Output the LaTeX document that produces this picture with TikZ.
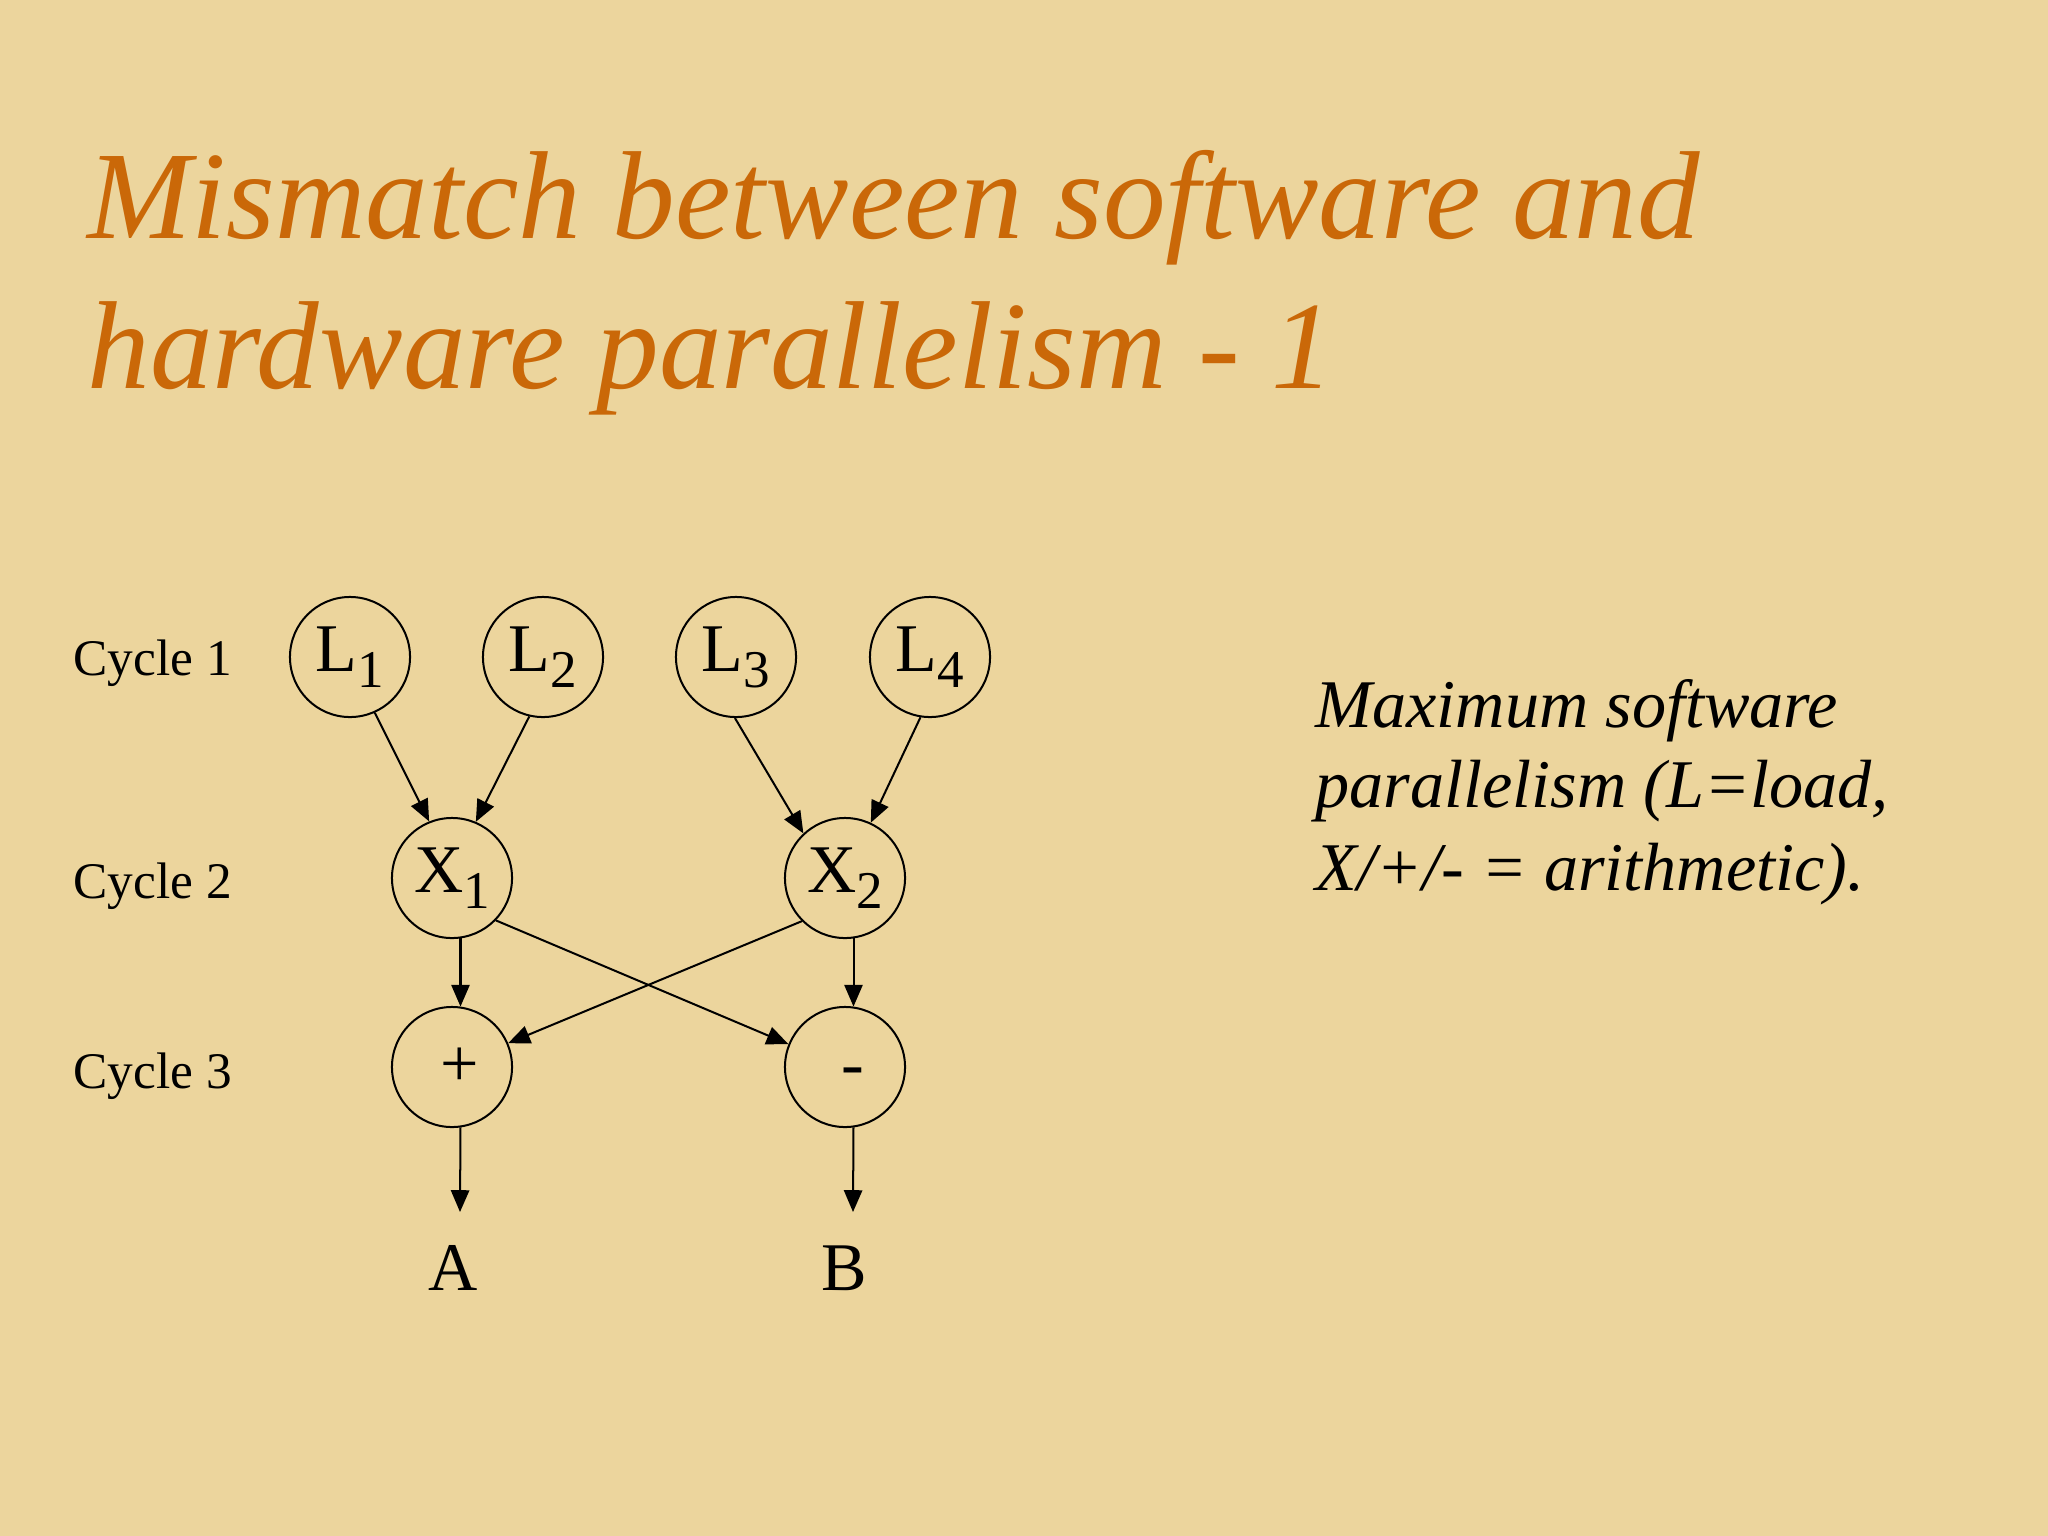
\documentclass[tikz,border=0pt]{standalone}
\usepackage{fontspec}
\setmainfont{Liberation Serif}
\usetikzlibrary{arrows.meta}
\definecolor{parch}{RGB}{236,213,157}
\definecolor{titleorange}{RGB}{202,104,8}
\newcommand\mysub[1]{\raisebox{-4.6pt}{\fontsize{15.1}{18}\selectfont #1}}
\tikzset{
  opnode/.style={circle,draw=black,line width=0.57pt,minimum size=1.2cm,inner sep=0pt,
    font=\fontsize{19.4}{23}\selectfont},
  conn/.style={line width=0.57pt,-{Triangle[length=6.2pt,width=5.2pt]}},
  titletext/.style={anchor=base west,inner sep=0pt,text=titleorange,
    font=\fontsize{35.6}{42}\selectfont\itshape},
  bodytext/.style={anchor=base west,inner sep=0pt,font=\fontsize{19.4}{23}\selectfont\itshape},
  cyclelabel/.style={anchor=base west,inner sep=0pt,font=\fontsize{14.6}{17}\selectfont},
  outlabel/.style={anchor=base,inner sep=0pt,font=\fontsize{19.4}{23}\selectfont}
}
\begin{document}
\begin{tikzpicture}[x=0.01cm,y=-0.01cm]
\fill[parch] (0,0) rectangle (2048,1536);
\useasboundingbox (0,0) rectangle (2048,1536);
% title
\node[titletext] (t1) at (87,238) {Mismatch between software and};
\node[titletext] (t2) at (87,388) {hardware parallelism - 1};
% right text
\node[bodytext] (r1) at (1315,727) {Maximum software};
\node[bodytext] (r2) at (1315,807) {parallelism (L=load,};
\node[bodytext] (r3) at (1315,890) {X/+/- = arithmetic).};
% cycle labels
\node[cyclelabel] (c1) at (73,675) {Cycle 1};
\node[cyclelabel] (c2) at (73,898) {Cycle 2};
\node[cyclelabel] (c3) at (73,1088) {Cycle 3};
% nodes
\node[opnode] (L1) at (350,657) {L\mysub{1}};
\node[opnode] (L2) at (543,657) {L\mysub{2}};
\node[opnode] (L3) at (736,657) {L\mysub{3}};
\node[opnode] (L4) at (930,657) {L\mysub{4}};
\node[opnode] (X1) at (452,878) {X\mysub{1}};
\node[opnode] (X2) at (845,878) {X\mysub{2}};
\node[opnode] (P) at (452,1067) {\hspace{4.6pt}+};
\node[opnode] (M) at (845,1067) {\hspace{4.6pt}-\vphantom{+}};
\node[outlabel] (A) at (453,1290) {A};
\node[outlabel] (B) at (844,1290) {B};
\coordinate (aEnd) at (460,1212);
\coordinate (bEnd) at (853,1212);
% connectors
\draw[conn] (L1.-66) -- (X1.112);
\draw[conn] (L2.-103) -- (X1.67);
\draw[conn] (L3.-91) -- (X2.133);
\draw[conn] (L4.-99) -- (X2.65);
\draw[conn] (X1.-82) -- (P.82);
\draw[conn] (X2.-82) -- (M.82);
\draw[conn] (X1.-44) -- (M.158);
\draw[conn] (X2.-135) -- (P.23);
\draw[conn] (P.-82) -- (aEnd);
\draw[conn] (M.-82) -- (bEnd);
\end{tikzpicture}
\end{document}
